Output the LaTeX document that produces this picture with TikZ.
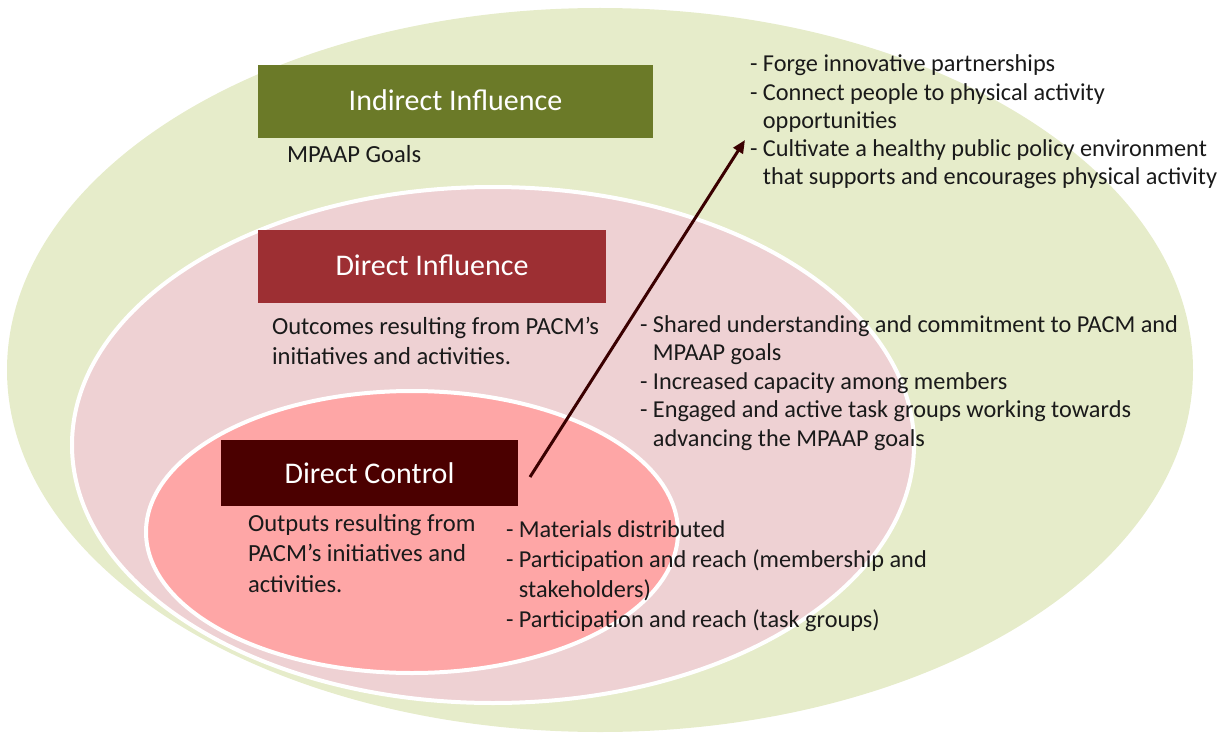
\documentclass[tikz,border=0pt]{standalone}
\usepackage{fontspec}
\setmainfont{Carlito}
\usetikzlibrary{shapes.geometric, arrows.meta}

\definecolor{outergreen}{HTML}{E6ECCA}
\definecolor{midpink}{HTML}{EED1D3}
\definecolor{innerpink}{HTML}{FEA6A6}
\definecolor{olivebox}{HTML}{6B7A28}
\definecolor{redbox}{HTML}{9D2F33}
\definecolor{maroonbox}{HTML}{4B0000}
\definecolor{arrowcol}{HTML}{3A0000}
\definecolor{bodytext}{HTML}{1A1A1A}

\begin{document}
\begin{tikzpicture}[x=1pt, y=-1pt,
  ring/.style={ellipse, inner sep=0pt, outer sep=0pt, draw=white, line width=4pt},
  headbox/.style={rectangle, inner sep=0pt, outer sep=0pt, text=white,
    font=\fontsize{30}{34}\selectfont},
  % multi-line text nodes are placed by the baseline of their last line
  body/.style={inner sep=0pt, outer sep=0pt, align=left, anchor=base west,
    text=bodytext},
]
\useasboundingbox (0,0) rectangle (1229,733);

% nested target rings
\node[ring, draw=none, fill=outergreen, minimum width=1186pt, minimum height=724pt]
  (outer) at (600,370) {};
\node[ring, fill=midpink, minimum width=842pt, minimum height=516pt]
  (middle) at (493,445) {};
\node[ring, fill=innerpink, minimum width=532pt, minimum height=282pt]
  (inner) at (412,532) {};

% level headings
\node[headbox, fill=olivebox, minimum width=395pt, minimum height=73pt]
  (indirect) at (455.5,101.5) {\raisebox{2pt}{Indirect Influence}};
\node[headbox, fill=redbox, minimum width=348pt, minimum height=73pt]
  (directinf) at (432,266.5) {\raisebox{2pt}{Direct Influence}};
\node[headbox, fill=maroonbox, minimum width=297pt, minimum height=66pt]
  (control) at (369.5,473) {Direct Control};

% descriptions
\node[body, font=\fontsize{24.6}{30}\selectfont] (goals) at (287,163) {MPAAP Goals};
\node[body, font=\fontsize{24.6}{30}\selectfont] (outcomes) at (272,364)
  {Outcomes resulting from PACM’s\\initiatives and activities.};
\node[body, font=\fontsize{24.6}{30.5}\selectfont] (outputs) at (248,592)
  {Outputs resulting from\\PACM’s initiatives and\\activities.};

% bullet lists
\node[body, font=\fontsize{24.3}{28.3}\selectfont] (goallist) at (750,185)
  {- Forge innovative partnerships\\
   - Connect people to physical activity\\
   \phantom{- }opportunities\\
   - Cultivate a healthy public policy environment\\
   \phantom{- }that supports and encourages physical activity};
\node[body, font=\fontsize{24.3}{28.5}\selectfont] (outcomelist) at (640,446)
  {- Shared understanding and commitment to PACM and\\
   \phantom{- }MPAAP goals\\
   - Increased capacity among members\\
   - Engaged and active task groups working towards\\
   \phantom{- }advancing the MPAAP goals};
\node[body, font=\fontsize{24.3}{29.7}\selectfont] (outputlist) at (506,627)
  {- Materials distributed\\
   - Participation and reach (membership and\\
   \phantom{- }stakeholders)\\
   - Participation and reach (task groups)};

% progression arrow
\coordinate (arrowtail) at (530,477);
\coordinate (arrowtip) at (745,140);
\draw[arrowcol, line width=3pt, -{Triangle[length=13pt, width=11pt]}]
  (arrowtail) -- (arrowtip);
\end{tikzpicture}
\end{document}
